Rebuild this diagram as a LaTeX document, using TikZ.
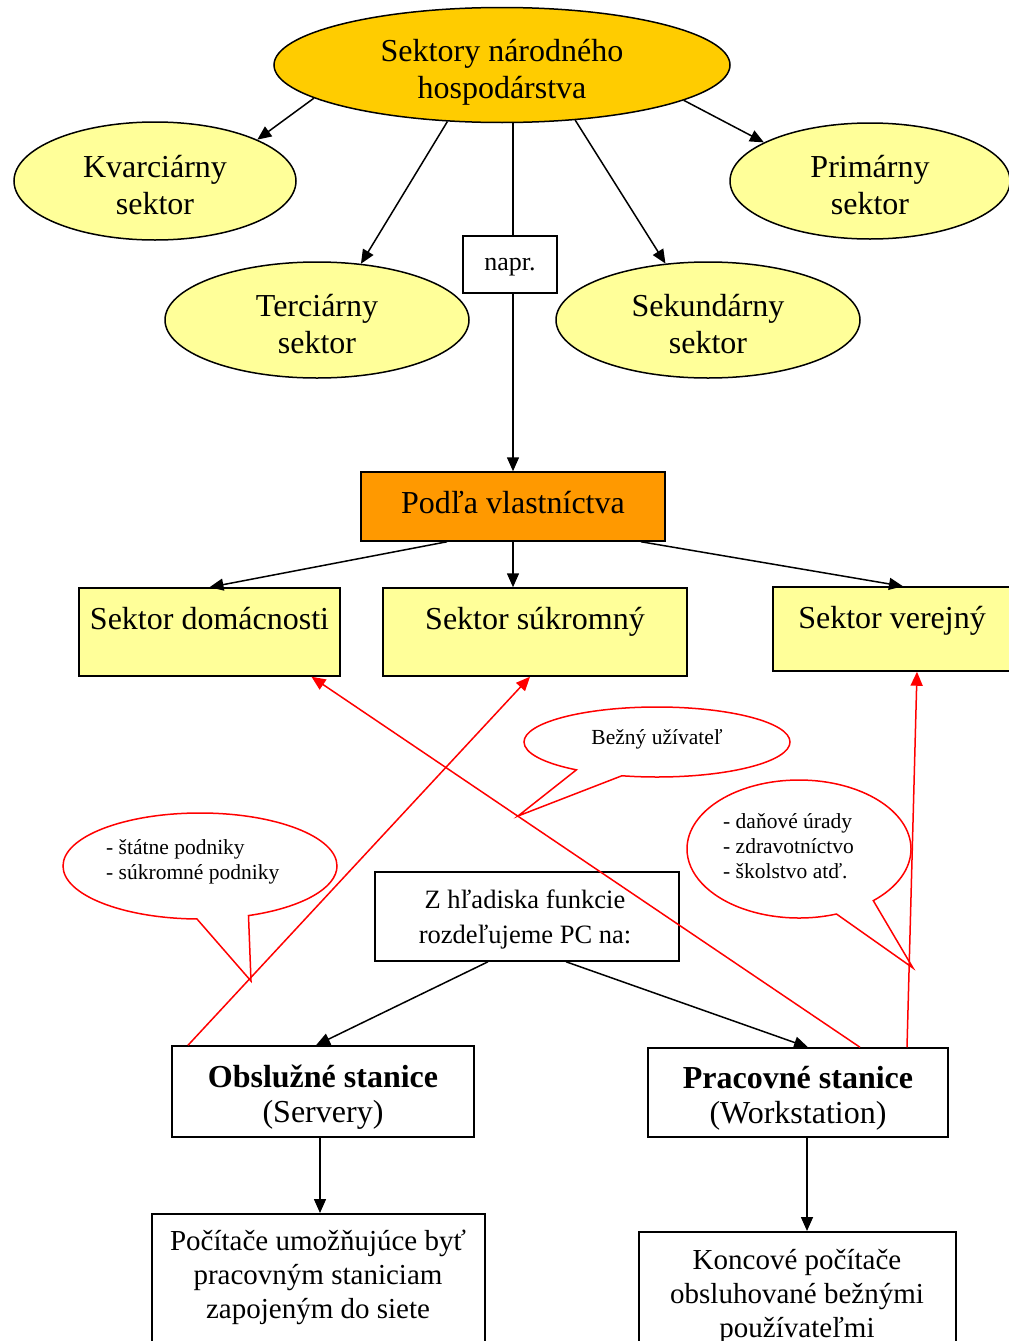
\documentclass[tikz,border=0pt]{standalone}
\usepackage{fontspec}
\setmainfont{Liberation Serif}
\usetikzlibrary{arrows.meta,shapes.geometric,shapes.callouts}
\definecolor{gold}{HTML}{FFCC00}
\definecolor{lyellow}{HTML}{FFFF99}
\definecolor{orng}{HTML}{FF9900}
\definecolor{rd}{HTML}{FF0000}
\begin{document}
\begin{tikzpicture}[x=1pt,y=-1pt,
  ell/.style={ellipse, draw=black, line width=1.5pt, fill=lyellow, inner sep=0pt},
  big/.style={inner sep=0pt, align=center, font=\fontsize{32}{37}\selectfont},
  sbox/.style={draw=black, line width=1.5pt, fill=lyellow, inner sep=0pt,
    font=\fontsize{32}{37}\selectfont, text height=41pt, text depth=47pt},
  wbox/.style={draw=black, line width=1.5pt, fill=white, inner sep=0pt},
  txt/.style={inner sep=0pt, align=center},
  call/.style={ellipse callout, draw=rd, line width=1.5pt, fill=white, inner sep=0pt,
    callout pointer arc=22},
  ctxt/.style={inner sep=0pt, align=left, anchor=west, font=\fontsize{21.5}{25}\selectfont},
  arr/.style={line width=1.5pt, -{Triangle[length=14pt,width=12pt]}},
  rarr/.style={draw=rd, line width=1.5pt, -{Triangle[length=14pt,width=12pt]}, color=rd},
  ln/.style={line width=1.5pt}]
\useasboundingbox (0,0) rectangle (1009,1341);
\clip (0,0) rectangle (1009,1341);
\fill[white] (0,0) rectangle (1009,1341);

% top ellipses
\node[ell, fill=gold, minimum width=456pt, minimum height=115pt] (top) at (502,65) {};
\node[big] (topt) at (502,72) {Sektory národného\\hospodárstva};
\node[ell, minimum width=282pt, minimum height=118pt] (kv) at (155,181) {};
\node[big] (kvt) at (155,185) {Kvarciárny\\sektor};
\node[ell, minimum width=280pt, minimum height=116pt] (pr) at (870,181) {};
\node[big] (prt) at (870,185) {Primárny\\sektor};
\node[ell, minimum width=304pt, minimum height=116pt] (tc) at (317,320) {};
\node[big] (tct) at (317,324) {Terciárny\\sektor};
\node[ell, minimum width=304pt, minimum height=116pt] (sk) at (708,320) {};
\node[big] (skt) at (708,324) {Sekundárny\\sektor};
\node[wbox, minimum width=94pt, text height=34.5pt, text depth=22.5pt,
  font=\fontsize{26}{30}\selectfont] (napr) at (510,264.5) {napr.};

\node[draw=black, line width=1.5pt, fill=orng, minimum width=304pt, inner sep=0pt,
  text height=41pt, text depth=28pt, font=\fontsize{32}{37}\selectfont] (podla) at (513,506.5) {Podľa vlastníctva};

\node[sbox, minimum width=261pt] (dom) at (209.5,632) {Sektor domácnosti};
\node[sbox, minimum width=304pt] (suk) at (535,632) {Sektor súkromný};
\node[sbox, minimum width=238pt, text depth=43pt] (ver) at (892,629) {Sektor verejný};

% arrows top
\draw[arr] (top.190.8) -- (kv.22);
\draw[arr] (top.226.5) -- (tc.52.2);
\draw[arr] (top.323.1) -- (sk.127.2);
\draw[arr] (top.349.2) -- (pr.160.3);
\draw[ln] ([xshift=3pt]napr.north |- top.south) -- ([xshift=3pt]napr.north);
\draw[arr] ([xshift=3pt]napr.south) -- ([xshift=3pt]napr.south |- podla.north);

\draw[arr] ([xshift=-66pt]podla.south) -- (dom.north);
\draw[arr] (podla.south) -- (podla.south |- suk.north);
\draw[arr] ([xshift=128pt]podla.south) -- ([xshift=11pt]ver.north);

% callouts
\coordinate (t1) at (518,816);
\coordinate (t2) at (251,981);
\coordinate (t3) at (913,968);
\node[call, minimum width=266pt, minimum height=70pt, callout absolute pointer=(t1)] (c1) at (657,742) {};
\node[txt, font=\fontsize{21.5}{25}\selectfont] (c1t) at (657,739) {Bežný užívateľ};
\node[call, minimum width=274pt, minimum height=106pt, callout absolute pointer=(t2)] (c2) at (200,866) {};
\node[ctxt] (c2t) at (106,862) {- štátne podniky\\- súkromné podniky};
\node[call, minimum width=224pt, minimum height=138pt, callout absolute pointer=(t3)] (c3) at (799,849) {};
\node[ctxt] (c3t) at (723,846) {- daňové úrady\\- zdravotníctvo\\- školstvo atď.};

% Z box
\node[wbox, minimum width=304pt, minimum height=89pt] (z) at (527,916.5) {};
\node[txt, font=\fontsize{26.5}{35}\selectfont] (zt) at (525,919) {Z hľadiska funkcie\\rozdeľujeme PC na:};

\node[wbox, minimum width=302pt, minimum height=91pt] (obs) at (323,1091.5) {};
\node[txt, font=\fontsize{32}{35}\selectfont] (obst) at (323,1097.5) {\textbf{Obslužné stanice}\\(Servery)};
\node[wbox, minimum width=300pt, minimum height=89pt] (prac) at (798,1092.5) {};
\node[txt, font=\fontsize{32}{35}\selectfont] (pract) at (798,1098.5) {\textbf{Pracovné stanice}\\(Workstation)};

\node[wbox, anchor=north, minimum width=333pt, minimum height=160pt] (poc) at (318.5,1213) {};
\node[txt, font=\fontsize{29}{34}\selectfont] (poct) at (318,1277) {Počítače umožňujúce byť\\pracovným staniciam\\zapojeným do siete};
\node[wbox, anchor=north, minimum width=317pt, minimum height=160pt] (kon) at (797.5,1231) {};
\node[txt, font=\fontsize{29}{34}\selectfont] (kont) at (797,1296.5) {Koncové počítače\\obsluhované bežnými\\používateľmi};

\draw[arr] ([xshift=-39pt]z.south) -- ([xshift=-7pt]obs.north);
\draw[arr] ([xshift=39pt]z.south) -- ([xshift=10pt]prac.north);
\draw[arr] ([xshift=-3pt]obs.south) -- ([xshift=-3pt]obs.south |- poc.north);
\draw[arr] ([xshift=9pt]prac.south) -- ([xshift=9pt]prac.south |- kon.north);

% red connectors
\draw[rarr] ([xshift=-135pt]obs.north) -- ([xshift=-5pt]suk.south);
\draw[rarr] ([xshift=62pt]prac.north) -- ([xshift=102pt]dom.south);
\draw[rarr] ([xshift=109pt]prac.north) -- ([xshift=25pt]ver.south);
\end{tikzpicture}
\end{document}
